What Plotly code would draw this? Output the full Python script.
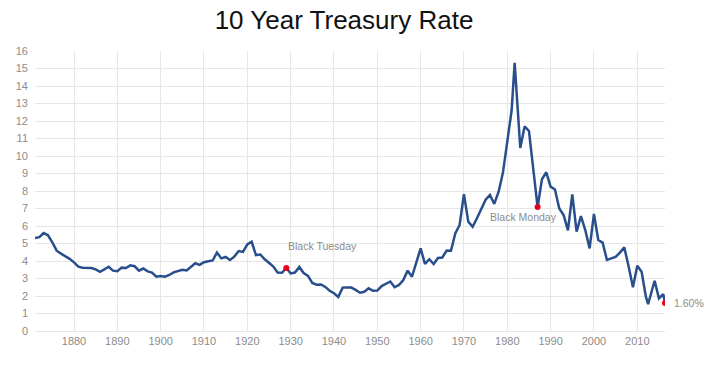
import plotly.graph_objects as go

years = [1871, 1872, 1873, 1874, 1875, 1876, 1877, 1878, 1879, 1880,
         1881, 1882, 1883, 1884, 1885, 1886, 1887, 1888, 1889, 1890,
         1891, 1892, 1893, 1894, 1895, 1896, 1897, 1898, 1899, 1900,
         1901, 1902, 1903, 1904, 1905, 1906, 1907, 1908, 1909, 1910,
         1911, 1912, 1913, 1914, 1915, 1916, 1917, 1918, 1919, 1920,
         1921, 1922, 1923, 1924, 1925, 1926, 1927, 1928, 1929, 1930,
         1931, 1932, 1933, 1934, 1935, 1936, 1937, 1938, 1939, 1940,
         1941, 1942, 1943, 1944, 1945, 1946, 1947, 1948, 1949, 1950,
         1951, 1952, 1953, 1954, 1955, 1956, 1957, 1958, 1959, 1960,
         1961, 1962, 1963, 1964, 1965, 1966, 1967, 1968, 1969, 1970,
         1971, 1972, 1973, 1974, 1975, 1976, 1977, 1978, 1979, 1980,
         1981, 1981.7, 1983, 1984, 1985, 1986, 1987, 1988, 1989, 1990,
         1991, 1992, 1993, 1994, 1995, 1996, 1997, 1998, 1999, 2000,
         2001, 2002, 2003, 2004, 2005, 2006, 2007, 2008, 2009, 2010,
         2011, 2012, 2012.5, 2014, 2015, 2016, 2016.4]

rates = [5.32, 5.36, 5.60, 5.47, 5.07, 4.59, 4.42, 4.28, 4.12, 3.92,
         3.68, 3.62, 3.62, 3.60, 3.52, 3.38, 3.52, 3.67, 3.45, 3.42,
         3.62, 3.60, 3.75, 3.70, 3.45, 3.57, 3.41, 3.34, 3.10, 3.14,
         3.10, 3.20, 3.35, 3.43, 3.50, 3.46, 3.67, 3.87, 3.78, 3.93,
         3.99, 4.03, 4.48, 4.15, 4.23, 4.06, 4.25, 4.57, 4.52, 4.95,
         5.10, 4.34, 4.37, 4.10, 3.90, 3.68, 3.34, 3.33, 3.60, 3.29,
         3.34, 3.66, 3.31, 3.15, 2.75, 2.65, 2.66, 2.52, 2.30, 2.16,
         1.95, 2.48, 2.49, 2.48, 2.35, 2.19, 2.24, 2.44, 2.30, 2.31,
         2.57, 2.68, 2.83, 2.50, 2.63, 2.91, 3.45, 3.10, 3.97, 4.72,
         3.84, 4.10, 3.83, 4.17, 4.20, 4.60, 4.59, 5.58, 6.06, 7.82,
         6.25, 5.96, 6.44, 6.95, 7.50, 7.77, 7.26, 7.96, 9.05, 10.82,
         12.60, 15.33, 10.46, 11.69, 11.43, 9.25, 7.08, 8.67, 9.07, 8.25,
         8.09, 7.00, 6.63, 5.75, 7.81, 5.68, 6.57, 5.77, 4.72, 6.69,
         5.20, 5.05, 4.06, 4.15, 4.24, 4.48, 4.78, 3.70, 2.50, 3.73,
         3.39, 1.95, 1.53, 2.87, 1.87, 2.10, 1.60]

event_years = [1929, 1987, 2016.4]
event_rates = [3.60, 7.08, 1.60]
event_labels = ["Black Tuesday", "Black Monday", "1.60%"]

x_ticks = list(range(1880, 2011, 10))
y_ticks = list(range(0, 17))

LINE = "#284f8c"
GRID = "#e6e6e6"
TXT = "#8c8c8c"

fig = go.Figure()
fig.add_trace(go.Scatter(x=years, y=rates, mode="lines",
                         line=dict(color=LINE, width=2.5), hoverinfo="skip"))
fig.add_trace(go.Scatter(x=event_years, y=event_rates, mode="markers",
                         marker=dict(color="#e8001c", size=6), hoverinfo="skip"))

shifts = [(0, 22, "left"), (-14, -10, "center"), (7, 0, "left")]
for (ex, ey, lab), (dx, dy, anc) in zip(zip(event_years, event_rates, event_labels), shifts):
    fig.add_annotation(x=ex, y=ey, text=lab, showarrow=False, xanchor=anc,
                       yanchor="middle", xshift=dx, yshift=dy,
                       font=dict(family="Arial, Liberation Sans", size=10.5, color=TXT))

fig.update_layout(
    width=710, height=366,
    margin=dict(l=35, r=45, t=51, b=35, autoexpand=False),
    paper_bgcolor="white", plot_bgcolor="white",
    showlegend=False,
    title=dict(text="10 Year Treasury Rate", x=0.4845, xanchor="center", y=0.945, yanchor="middle",
               font=dict(family="Arial, Liberation Sans", size=26, color="#111111")),
    font=dict(family="Arial, Liberation Sans", size=11, color=TXT),
)
fig.update_xaxes(range=[1871, 2016.4], tickvals=x_ticks, ticktext=[str(t) for t in x_ticks],
                 showgrid=True, gridcolor=GRID, gridwidth=1, zeroline=False,
                 showline=True, linecolor=GRID, ticks="", tickfont=dict(size=11, color=TXT))
fig.update_yaxes(range=[0, 16], tickvals=y_ticks, showgrid=True, gridcolor=GRID, gridwidth=1,
                 zeroline=False, showline=False, ticks="", ticklabelstandoff=6,
                 tickfont=dict(size=11, color=TXT))

fig.write_html("out.html", config={"displayModeBar": False},
               post_script="document.body.style.margin='0';document.body.style.overflow='hidden';")
